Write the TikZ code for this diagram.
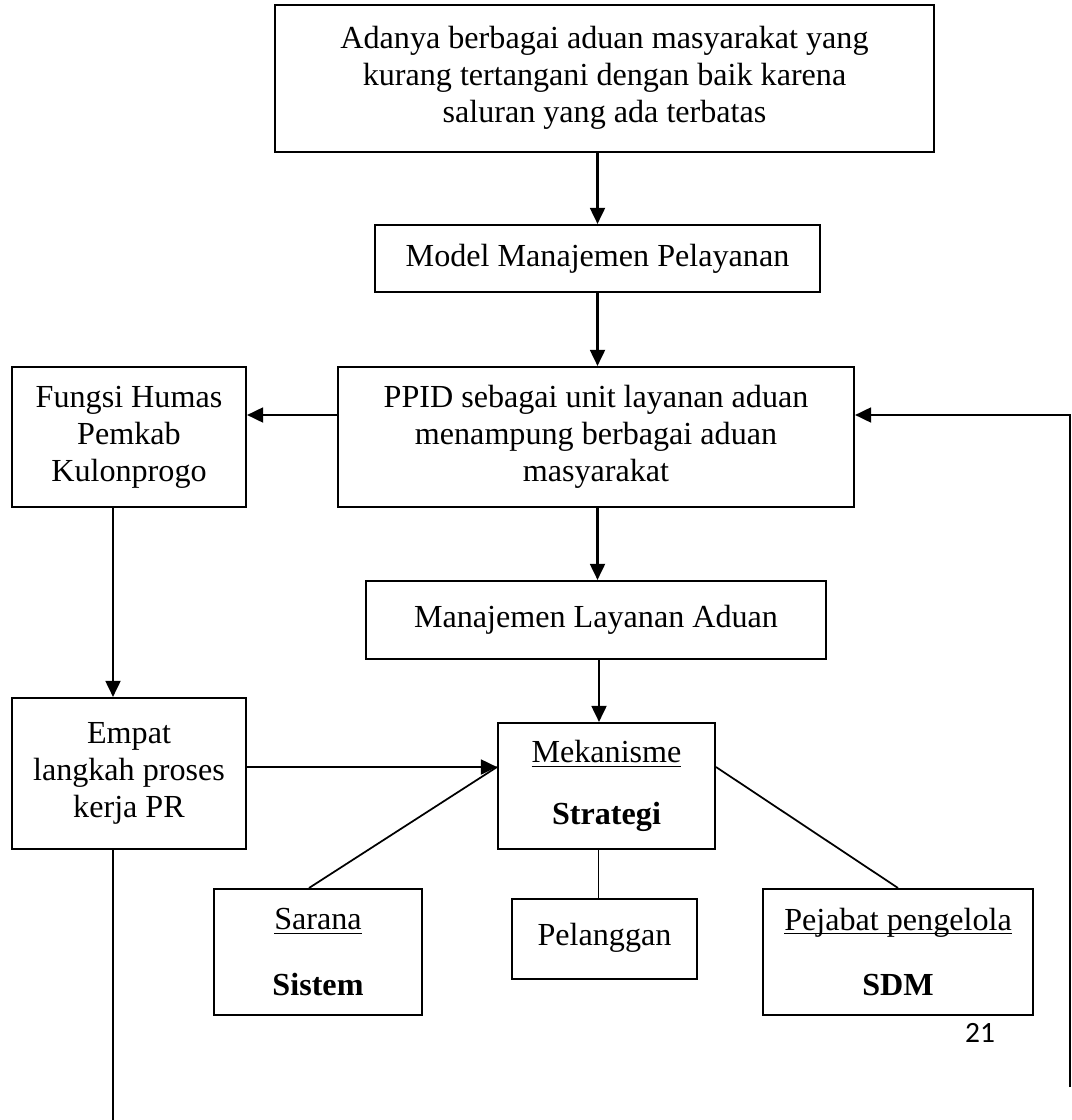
\documentclass[tikz,border=0pt]{standalone}
\usepackage{fontspec}
\setmainfont{Liberation Serif}
\newfontfamily\pagefont{Carlito}
\usetikzlibrary{arrows.meta,calc}

\def\unit{0.3735pt}
\newcommand{\garis}[1]{\underline{\smash{#1}}\vphantom{#1}}

\begin{document}
\begin{tikzpicture}[x=\unit, y=-\unit, >={Triangle[length=6pt,width=5.5pt]},
    font=\fontsize{12}{13.8}\selectfont]
    \tikzstyle{box}=[draw, line width=0.75pt, align=center, inner sep=0pt]
    \tikzstyle{flow}=[->, line width=1pt]
    \tikzstyle{link}=[line width=0.65pt]

    \useasboundingbox (0,0) rectangle (1071,1120);

    % Main column
    \node[box, minimum width=659*\unit, minimum height=147*\unit] (aduan) at (604.5,78.5)
        {\raisebox{1.2pt}{\begin{tabular}{@{}c@{}}Adanya berbagai aduan masyarakat yang\\kurang tertangani dengan baik karena\\saluran yang ada terbatas\end{tabular}}};
    \node[box, minimum width=445*\unit, minimum height=67*\unit] (model) at (597.5,258.5)
        {Model Manajemen Pelayanan};
    \node[box, minimum width=516*\unit, minimum height=140*\unit] (ppid) at (596,437)
        {PPID sebagai unit layanan aduan\\menampung berbagai aduan\\masyarakat};
    \node[box, minimum width=460*\unit, minimum height=78*\unit] (layanan) at (596,620)
        {\raisebox{2.6pt}{Manajemen Layanan Aduan}};
    \node[box, minimum width=217*\unit, minimum height=126*\unit] (mekanisme) at (606.5,786)
        {\raisebox{-1.4pt}{\begin{tabular}{@{}c@{}}\garis{Mekanisme}\\[9.2pt]\textbf{Strategi}\end{tabular}}};

    % Left column
    \node[box, minimum width=234*\unit, minimum height=140*\unit] (humas) at (129,437)
        {Fungsi Humas\\Pemkab\\Kulonprogo};
    \node[box, minimum width=234*\unit, minimum height=151*\unit] (empat) at (129,773.5)
        {\raisebox{2.4pt}{\begin{tabular}{@{}c@{}}Empat\\langkah proses\\kerja PR\end{tabular}}};

    % Bottom row
    \node[box, minimum width=208*\unit, minimum height=126*\unit] (sarana) at (318,952)
        {\garis{Sarana}\\[10.8pt]\textbf{Sistem}};
    \node[box, minimum width=185*\unit, minimum height=80*\unit] (pelanggan) at (604.5,939)
        {\raisebox{3.4pt}{Pelanggan}};
    \node[box, minimum width=270*\unit, minimum height=126*\unit] (pejabat) at (898,952)
        {\garis{Pejabat pengelola}\\[10.8pt]\textbf{SDM}};

    \node[font=\pagefont\fontsize{11}{13}\selectfont] (halaman) at (980,1033) {21};

    % Free ends
    \coordinate (masuk) at (mekanisme.west |- 0,767);
    \coordinate (keluar) at (mekanisme.east |- 0,767);
    \coordinate (balik) at (1070,1087);
    \coordinate (ujung) at (113,1120);

    % Arrows down the main column
    \draw[flow] (model.north |- aduan.south) -- (model.north);
    \draw[flow] (model.south) -- (model.south |- ppid.north);
    \draw[flow] (model.south |- ppid.south) -- (model.south |- layanan.north);
    \draw[flow] ([xshift=3*\unit]layanan.south) -- ([xshift=3*\unit]layanan.south |- mekanisme.north);

    % Side arrows
    \draw[flow] (ppid.west |- 0,415) -- (humas.east |- 0,415);
    \draw[flow] ([xshift=-16*\unit]humas.south) -- ([xshift=-16*\unit]empat.north);
    \draw[flow] (empat.east |- masuk) -- (masuk);
    \draw[flow] (balik) -- (balik |- 0,415) -- (ppid.east |- 0,415);
    \draw[link] ([xshift=-16*\unit]empat.south) -- (ujung);

    % Links to the bottom row
    \draw[link] ([xshift=-9*\unit]sarana.north) -- (masuk);
    \draw[link] (keluar) -- (pejabat.north);
    \draw[link] ([xshift=-8*\unit]mekanisme.south) -- ([xshift=-8*\unit]mekanisme.south |- pelanggan.north);
\end{tikzpicture}
\end{document}
